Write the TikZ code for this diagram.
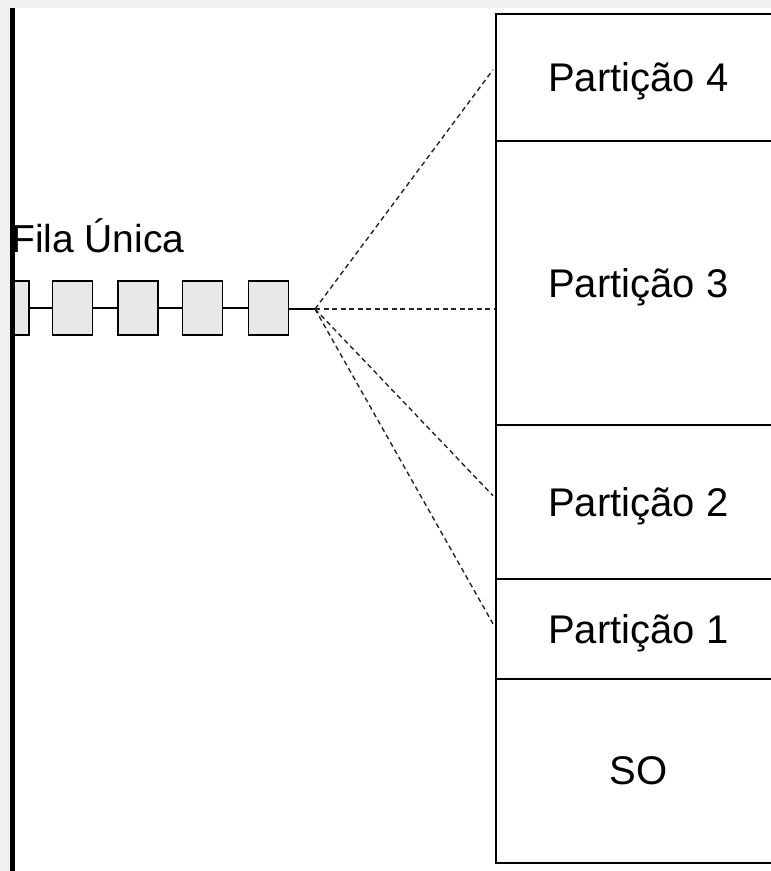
\documentclass[tikz,border=0pt]{standalone}
\usepackage{fontspec}
\setmainfont{Liberation Sans}
\tikzset{
  part/.style={draw=black, line width=1.5pt, rectangle, minimum width=285pt, inner sep=0pt, text depth=0pt, anchor=north west, font=\fontsize{40}{48}\selectfont},
  qbox/.style={draw=black, line width=1.5pt, fill=gray!18, rectangle, minimum height=54pt, inner sep=0pt},
  qlink/.style={line width=1.5pt},
  fanline/.style={line width=1.4pt, dash pattern=on 5pt off 3.5pt, black!85}
}
\begin{document}
\begin{tikzpicture}[x=1pt,y=-1pt]
\useasboundingbox (0,0) rectangle (771,871);
\clip (0,0) rectangle (771,871);
\fill[black!6] (0,0) rectangle (771,871);
\fill[white] (10,8) rectangle (771,871);

% memory partitions
\node[part, minimum height=127pt] (p4) at (495,13) {Partição 4};
\node[part, minimum height=284pt] (p3) at (495,140) {Partição 3};
\node[part, minimum height=154pt] (p2) at (495,424) {Partição 2};
\node[part, minimum height=100pt] (p1) at (495,578) {Partição 1};
\node[part, minimum height=184pt] (so) at (495,678) {SO};

% queue
\node[anchor=base west, inner sep=0pt, font=\fontsize{39}{46}\selectfont] (lbl) at (11,252) {Fila Única};
\node[qbox, minimum width=17pt] (q0) at (20.5,308) {};
\node[qbox, minimum width=40pt] (q1) at (72.5,308) {};
\node[qbox, minimum width=40pt] (q2) at (138,308) {};
\node[qbox, minimum width=40pt] (q3) at (202.5,308) {};
\node[qbox, minimum width=40pt] (q4) at (268.5,308) {};
\coordinate (fan) at (315,309);
\draw[qlink] (q0) -- (q1) (q1) -- (q2) (q2) -- (q3) (q3) -- (q4) (q4.east |- fan) -- (fan);

% fan lines
\draw[fanline] (fan) -- ([xshift=-2pt,yshift=7.5pt]p4.west);
\draw[fanline] (fan) -- (fan -| p3.west);
\draw[fanline] (fan) -- ([xshift=-2pt,yshift=6pt]p2.west);
\draw[fanline] (fan) -- ([xshift=-2pt,yshift=5pt]p1.west);

% vertical bar
\coordinate (vt) at (12.5,8);
\coordinate (vb) at (12.5,871);
\draw[line width=5pt] (vt) -- (vb);
\end{tikzpicture}
\end{document}
